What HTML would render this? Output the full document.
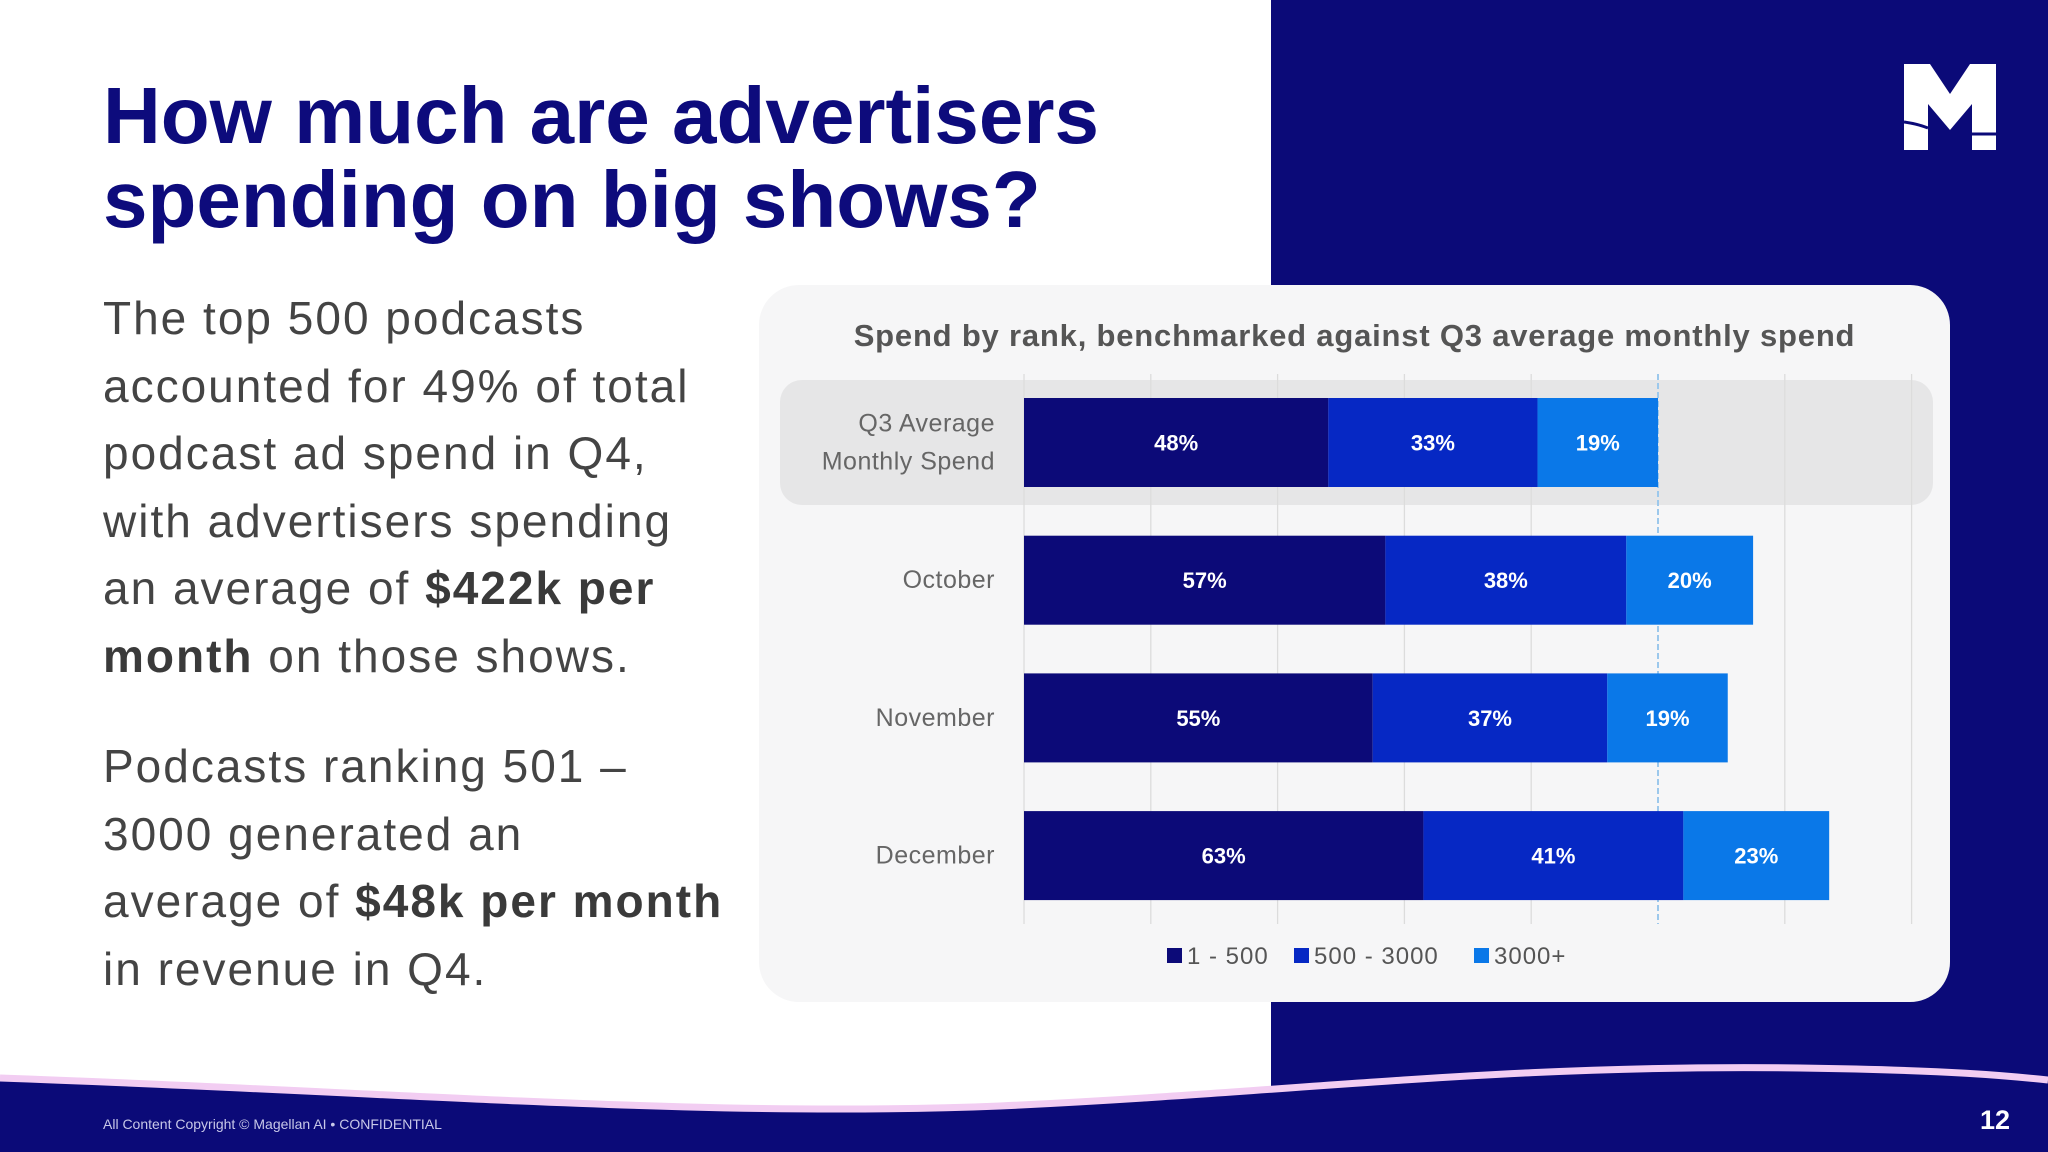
<!DOCTYPE html>
<html><head><meta charset="utf-8">
<style>
html,body{margin:0;padding:0;}
body{width:2048px;height:1152px;position:relative;overflow:hidden;background:#fff;font-family:"Liberation Sans",sans-serif;}
.abs{position:absolute;}
#title{left:103px;top:74px;font-size:80px;font-weight:bold;color:#0d0b7c;line-height:84px;letter-spacing:0px;}
.para{left:103px;font-size:46px;color:#444;line-height:67.5px;letter-spacing:2px;}
.para b{color:#3a3a3a;}
</style></head>
<body>
<div class="abs" style="left:1271px;top:0;width:777px;height:1100px;background:#0b0a78;"></div>
<svg class="abs" style="left:1904px;top:64px" width="92" height="86" viewBox="0 0 92 86">
<path d="M0,0 H26 L46,30 L66,0 H92 V86 H68 V40 L46,66 L24,40 V86 H0 Z" fill="#fff"/>
<path d="M0,58 Q14,60 24,64" stroke="#0b0a78" stroke-width="3" fill="none"/>
<path d="M68,70 H92" stroke="#0b0a78" stroke-width="3"/>
</svg>
<div id="title" class="abs">How much are advertisers<br>spending on big shows?</div>
<div class="abs para" style="top:285px;">The top 500 podcasts<br>accounted for 49% of total<br>podcast ad spend in Q4,<br>with advertisers spending<br>an average of <b>$422k per<br>month</b> on those shows.</div>
<div class="abs para" style="top:733px;">Podcasts ranking 501 –<br>3000 generated an<br>average of <b>$48k per month</b><br>in revenue in Q4.</div>

<div class="abs" style="left:759px;top:285px;width:1191px;height:717px;background:#f6f6f7;border-radius:40px;"></div>
<div class="abs" style="left:759px;width:1191px;top:318px;text-align:center;font-size:31px;font-weight:bold;color:#555;letter-spacing:0.8px;">Spend by rank, benchmarked against Q3 average monthly spend</div>
<svg id="chart" class="abs" style="left:0;top:0" width="2048" height="1152"></svg>

<svg class="abs" style="left:0;top:0" width="2048" height="1152">
<path d="M0,1078 C400,1092 700,1118 1000,1106 C1300,1092 1500,1064 1800,1068 C1950,1070 2010,1076 2048,1080 L2048,1152 L0,1152 Z" fill="#0b0a78"/>
<path d="M0,1078 C400,1092 700,1118 1000,1106 C1300,1092 1500,1064 1800,1068 C1950,1070 2010,1076 2048,1080" stroke="#f2cdf2" stroke-width="7" fill="none"/>
</svg>
<div class="abs" style="left:103px;top:1116px;font-size:14px;color:#c8c8e8;">All Content Copyright © Magellan AI • CONFIDENTIAL</div>
<div class="abs" style="left:1980px;top:1105px;font-size:27px;font-weight:bold;color:#fff;">12</div>

<script>
const categories = ["Q3 Average|Monthly Spend","October","November","December"];
const series1 = [48,57,55,63];
const series2 = [33,38,37,41];
const series3 = [19,20,19,23];
const seriesNames = ["1 - 500","500 - 3000","3000+"];
const gridTicks = [0,20,40,60,80,100,120,140];
const colors = ["#0c0a78","#0628c4","#0a78e8"];
const NS="http://www.w3.org/2000/svg";
const svg=document.getElementById('chart');
const x0=1024, pxPer=6.34;
const xs=v=>x0+v*pxPer;
const rowTop=398, rowStep=137.7, barH=89;
const ys=i=>rowTop+i*rowStep;
function mk(t,a){const e=document.createElementNS(NS,t);for(const k in a)e.setAttribute(k,a[k]);svg.appendChild(e);return e;}
let hl=mk('rect',{x:780,y:380,width:1153,height:125,rx:22,fill:'#e6e6e7'});


gridTicks.forEach(t=>{
  const g=mk('line',{x1:xs(t),x2:xs(t),y1:374,y2:924,stroke:t===100?'#9cc8ec':'#dcdcdc','stroke-width':t===100?2:1.3,'stroke-dasharray':t===100?'6,3':'none'});
  
  
});
const all=[series1,series2,series3];
categories.forEach((c,i)=>{
  const y=ys(i);
  let acc=0;
  all.forEach((s,j)=>{
    const v=s[i];
    const r=mk('rect',{x:xs(acc),y:y,width:v*pxPer,height:barH,fill:colors[j]});
    
    
    const t=mk('text',{x:xs(acc+v/2),y:y+barH/2+8,'text-anchor':'middle','font-size':22,'font-weight':'bold',fill:'#fff','font-family':'Liberation Sans, sans-serif'});
    t.textContent=v+'%';
    
    
    acc+=v;
  });
  const parts=c.split('|');
  parts.forEach((p,k)=>{
    const off=parts.length>1?(k===0?-11:27):8;
    const t=mk('text',{x:995,y:y+barH/2+off,'text-anchor':'end','font-size':25,fill:'#666','font-family':'Liberation Sans, sans-serif','letter-spacing':0.5});
    t.textContent=p;
    
    
  });
});
const lx=[1167,1294,1474];
seriesNames.forEach((n,j)=>{
  const r=mk('rect',{x:lx[j],y:948,width:15,height:15,fill:colors[j]});
  
  
  const t=mk('text',{x:lx[j]+20,y:964,'font-size':24,fill:'#555','font-family':'Liberation Sans, sans-serif','letter-spacing':1});
  t.textContent=n;
  
  
});
</script>
</body></html>
